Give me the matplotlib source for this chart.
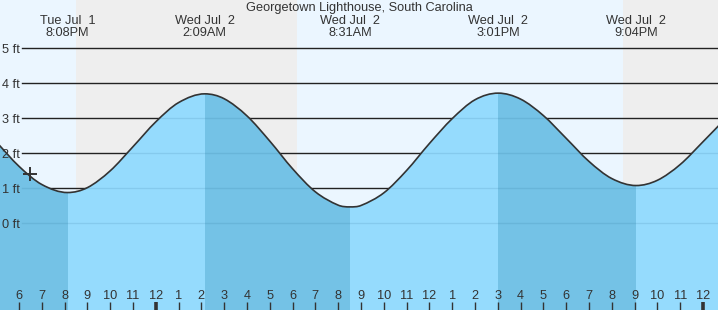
import matplotlib
matplotlib.use("Agg")
import matplotlib.pyplot as plt
import matplotlib.transforms as mtransforms
from matplotlib.patches import PathPatch
from matplotlib.path import Path
import numpy as np

plt.rcParams['font.family'] = ['Liberation Sans', 'DejaVu Sans']

# ---------------- data ----------------
title = "Georgetown Lighthouse, South Carolina"

# hours since Jul 1 00:00, tide height (ft)
hours = list(range(17, 50))
heights = [2.32, 1.62, 1.10, 0.87, 1.01, 1.49, 2.18, 2.89, 3.44, 3.69,
           3.55, 3.06, 2.34, 1.55, 0.89, 0.51, 0.50, 0.86, 1.50, 2.27,
           2.98, 3.52, 3.71, 3.54, 3.07, 2.42, 1.76, 1.27, 1.07, 1.22,
           1.67, 2.32, 2.99]

# high / low tides
extreme_hours = [20.13, 26.15, 32.52, 39.02, 45.07]
extreme_heights = [0.87, 3.69, 0.46, 3.71, 1.07]
extreme_types = ["L", "H", "L", "H", "L"]
extreme_days = ["Tue Jul  1", "Wed Jul  2", "Wed Jul  2", "Wed Jul  2", "Wed Jul  2"]
extreme_times = ["8:08PM", "2:09AM", "8:31AM", "3:01PM", "9:04PM"]

# night periods (sunset -> sunrise)
night_spans = [(20.50, 30.19), (44.48, 48.70)]

# current time marker
now_hour = 18.48
now_height = 1.40

# y grid levels
ft_levels = [0, 1, 2, 3, 4, 5]

# x ticks
tick_hours = list(range(18, 49))
tick_labels = ["6", "7", "8", "9", "10", "11", "12", "1", "2", "3", "4", "5",
               "6", "7", "8", "9", "10", "11", "12", "1", "2", "3", "4", "5",
               "6", "7", "8", "9", "10", "11", "12"]

# ---------------- styling ----------------
XMIN, XMAX = 17.167, 48.66
YMIN, YMAX = -2.486, 6.371
DAY = "#EBF6FF"
NIGHT = "#EEEEEE"
LIGHT = "#95DBFD"
DARK = "#74C2E6"
INK = "#333333"
FS = 9.2

fig = plt.figure(figsize=(7.18, 3.10), dpi=100)
ax = fig.add_axes([0, 0, 1, 1])
ax.set_xlim(XMIN, XMAX)
ax.set_ylim(YMIN, YMAX)
ax.set_facecolor(DAY)
for s in ax.spines.values():
    s.set_visible(False)

for a, b in night_spans:
    ax.axvspan(a, b, color=NIGHT, lw=0, zorder=0)

# grid lines
ylab_tr = mtransforms.offset_copy(ax.get_yaxis_transform(), fig=fig, x=0, y=-1.8, units="dots")
for v in ft_levels:
    ax.axhline(v, xmin=22 / 718, xmax=1, color="#222222", lw=1.0, zorder=1)
    ax.text(2 / 718, v, f"{v} ft", transform=ylab_tr,
            ha="left", va="center", fontsize=FS, color=INK, zorder=7)

# curve: hourly readings plus extremes, drawn as a smooth Bezier path
pts = {}
for t, h in zip(hours, heights):
    if min(abs(t - e) for e in extreme_hours) > 0.3:
        pts[t] = h
for t, h in zip(extreme_hours, extreme_heights):
    pts[t] = h
xs = np.array(sorted(pts), dtype=float)
ys = np.array([pts[t] for t in xs])
n = len(xs)
slopes = np.zeros(n)
for i in range(n):
    if xs[i] in extreme_hours:
        slopes[i] = 0.0
    elif i == 0:
        slopes[i] = (ys[1] - ys[0]) / (xs[1] - xs[0])
    elif i == n - 1:
        slopes[i] = (ys[-1] - ys[-2]) / (xs[-1] - xs[-2])
    else:
        slopes[i] = (ys[i + 1] - ys[i - 1]) / (xs[i + 1] - xs[i - 1])

cverts = [(xs[0], ys[0])]
ccodes = [Path.MOVETO]
for i in range(n - 1):
    dx = xs[i + 1] - xs[i]
    cverts += [(xs[i] + dx / 3, ys[i] + slopes[i] * dx / 3),
               (xs[i + 1] - dx / 3, ys[i + 1] - slopes[i + 1] * dx / 3),
               (xs[i + 1], ys[i + 1])]
    ccodes += [Path.CURVE4] * 3
curve_path = Path(cverts, ccodes)

wverts = cverts + [(xs[-1], YMIN - 1), (xs[0], YMIN - 1), (xs[0], ys[0])]
wcodes = ccodes + [Path.LINETO, Path.LINETO, Path.CLOSEPOLY]
water = PathPatch(Path(wverts, wcodes), fc=LIGHT, ec="none", zorder=2)
ax.add_patch(water)

bounds = [XMIN - 1] + extreme_hours + [XMAX + 1]
for i in range(len(bounds) - 1):
    falling = i < len(extreme_types) and extreme_types[i] == "L"
    if falling:
        span = ax.axvspan(bounds[i], bounds[i + 1], color=DARK, lw=0, zorder=3)
        span.set_clip_path(water)

for v in ft_levels:
    ln = ax.axhline(v, xmin=22 / 718, xmax=1, color="#1d5f87", alpha=0.13, lw=1.0, zorder=4)
    ln.set_clip_path(water)

ax.add_patch(PathPatch(curve_path, fill=False, ec=INK, lw=1.2, zorder=5))
ax.plot([now_hour], [now_height], marker="+", ms=10, mew=1.4, color=INK, zorder=6)

# labels
blend = mtransforms.blended_transform_factory(ax.transData, ax.transAxes)
ax.text(0.5, 1 - 8.5 / 310, title, transform=ax.transAxes, ha="center", va="center",
        fontsize=FS, color=INK)
for t, d, tm in zip(extreme_hours, extreme_days, extreme_times):
    ax.text(t, 1 - 20.5 / 310, d, transform=blend, ha="center", va="center",
            fontsize=FS, color=INK)
    ax.text(t, 1 - 32.5 / 310, tm, transform=blend, ha="center", va="center",
            fontsize=FS, color=INK)

# x ticks
ax.set_yticks([])
ax.set_xticks(tick_hours)
ax.set_xticklabels(tick_labels)
ax.tick_params(axis="x", direction="in", length=6, width=1.0, color=INK,
               labelsize=FS, labelcolor=INK, pad=-14.5)
for t, tk in zip(tick_hours, ax.xaxis.get_major_ticks()):
    if t % 24 == 0:
        tk.tick1line.set_markeredgewidth(2.6)
ax.xaxis.set_zorder(10)

fig.savefig("out.png", dpi=100)
